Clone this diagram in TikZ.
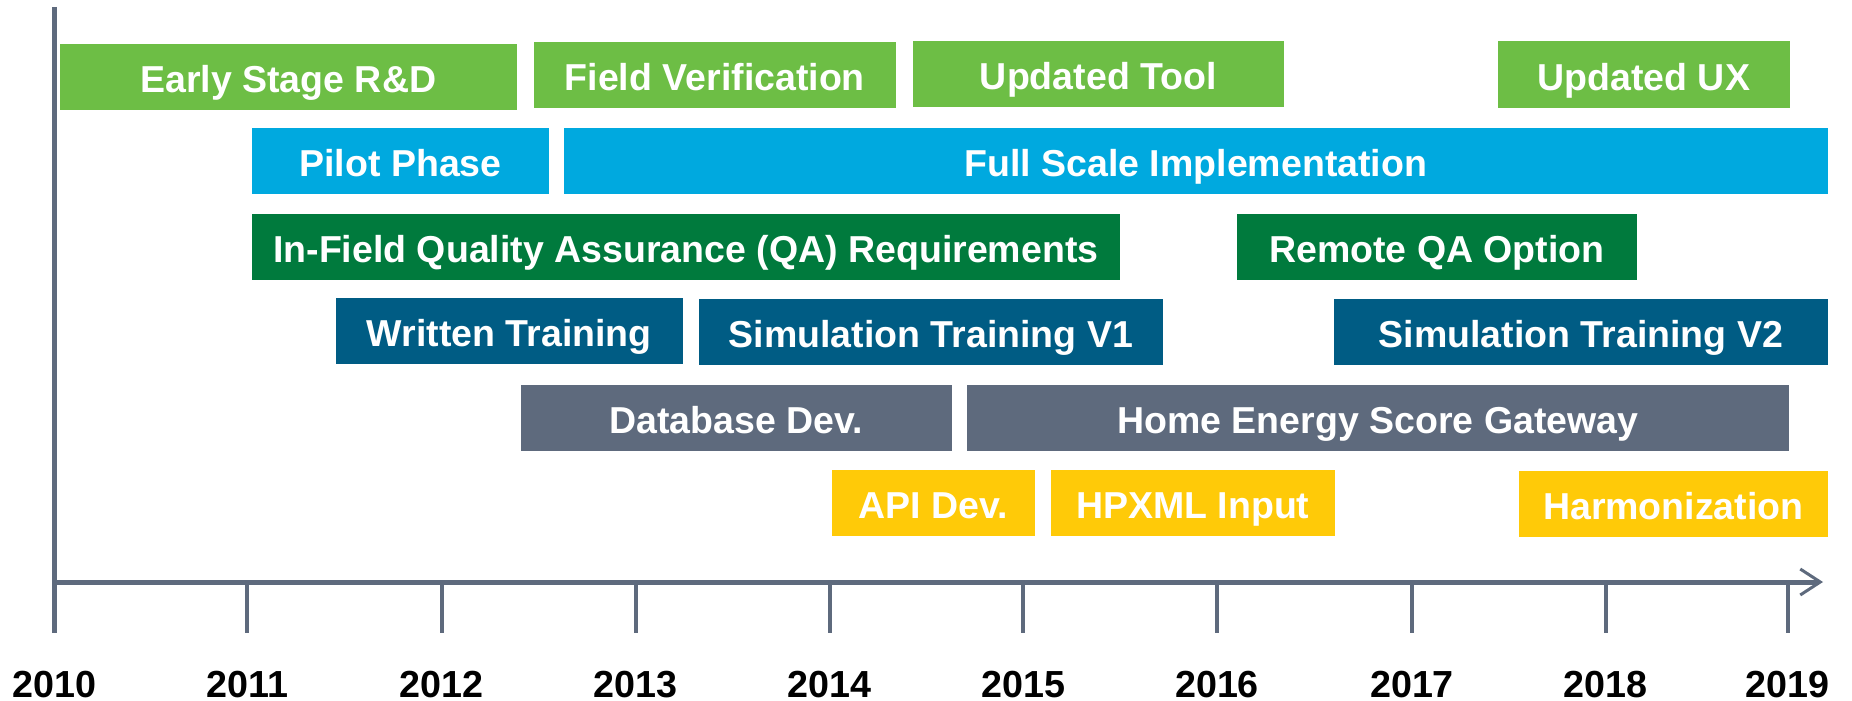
\documentclass[tikz,border=0pt]{standalone}
\usepackage{fontspec}
\setmainfont{Liberation Sans}
\usepackage{xcolor}
\usepackage{tikz}
\usetikzlibrary{arrows.meta}

\definecolor{lgreen}{HTML}{6DBE45}
\definecolor{skyblue}{HTML}{00A9DF}
\definecolor{forest}{HTML}{007A3D}
\definecolor{teal}{HTML}{005C84}
\definecolor{slate}{HTML}{5E6A7D}
\definecolor{gold}{HTML}{FFCA08}

\begin{document}
\begin{tikzpicture}[x=1pt,y=-1pt,
        bar/.style={rectangle, inner sep=0pt, minimum height=66pt, text=white,
            font=\fontsize{37.5}{40}\selectfont\bfseries, text height=31pt, text depth=0pt},
        year/.style={inner sep=0pt, text=black,
            font=\fontsize{37.7}{40}\selectfont\bfseries, text height=27pt, text depth=0pt}]
            \useasboundingbox (0,0) rectangle (1852,701);
            % Axes
            \draw[line width=5.5pt, slate] (54.5,7) -- (54.5,633);
            \draw[line width=5pt, slate, -{Straight Barb[length=20pt,width=26pt,line width=3pt]}] (54.5,582) -- (1823,582);
            % Ticks and years
            \foreach \x/\yr in {54.5/2010, 247.3/2011, 441.8/2012, 635.8/2013, 829.7/2014,
                                1023.3/2015, 1217/2016, 1412/2017, 1605.5/2018, 1787.7/2019} {
                \draw[line width=4pt, slate] (\x,582) -- (\x,633);
                \node[year] (y\yr) at (\x,683.5) {\yr};
            }
            % Row 1
            \node[bar, fill=lgreen, minimum width=456.7pt] (early) at (288.3,77.3) {Early Stage R\&D};
            \node[bar, fill=lgreen, minimum width=361.7pt] (fieldver) at (714.8,75.3) {Field Verification};
            \node[bar, fill=lgreen, minimum width=370.7pt] (updtool) at (1098.3,74.3) {Updated Tool};
            \node[bar, fill=lgreen, minimum width=291.7pt] (updux) at (1643.8,74.5) {Updated UX};
            % Row 2
            \node[bar, fill=skyblue, minimum width=297pt] (pilot) at (400.5,161.3) {Pilot Phase};
            \node[bar, fill=skyblue, minimum width=1263.7pt] (fullscale) at (1195.8,161.3) {Full Scale Implementation};
            % Row 3
            \node[bar, fill=forest, minimum width=867.7pt] (infieldqa) at (685.8,246.8) {In-Field Quality Assurance (QA) Requirements};
            \node[bar, fill=forest, minimum width=399.7pt] (remoteqa) at (1436.8,246.8) {Remote QA Option};
            % Row 4
            \node[bar, fill=teal, minimum width=346.7pt] (written) at (509.3,330.8) {Written Training};
            \node[bar, fill=teal, minimum width=463.7pt] (simone) at (930.8,331.8) {Simulation Training V1};
            \node[bar, fill=teal, minimum width=493.7pt] (simtwo) at (1580.8,331.8) {Simulation Training V2};
            % Row 5
            \node[bar, fill=slate, minimum width=430.7pt] (database) at (736.3,418) {Database Dev.};
            \node[bar, fill=slate, minimum width=821.7pt] (hescore) at (1377.8,418) {Home Energy Score Gateway};
            % Row 6
            \node[bar, fill=gold, minimum width=202.7pt] (apidev) at (933.3,502.5) {API Dev.};
            \node[bar, fill=gold, minimum width=283.7pt] (hpxml) at (1192.8,502.5) {HPXML Input};
            \node[bar, fill=gold, minimum width=308.7pt] (harmon) at (1673.3,503.8) {Harmonization};
        \end{tikzpicture}
\end{document}
